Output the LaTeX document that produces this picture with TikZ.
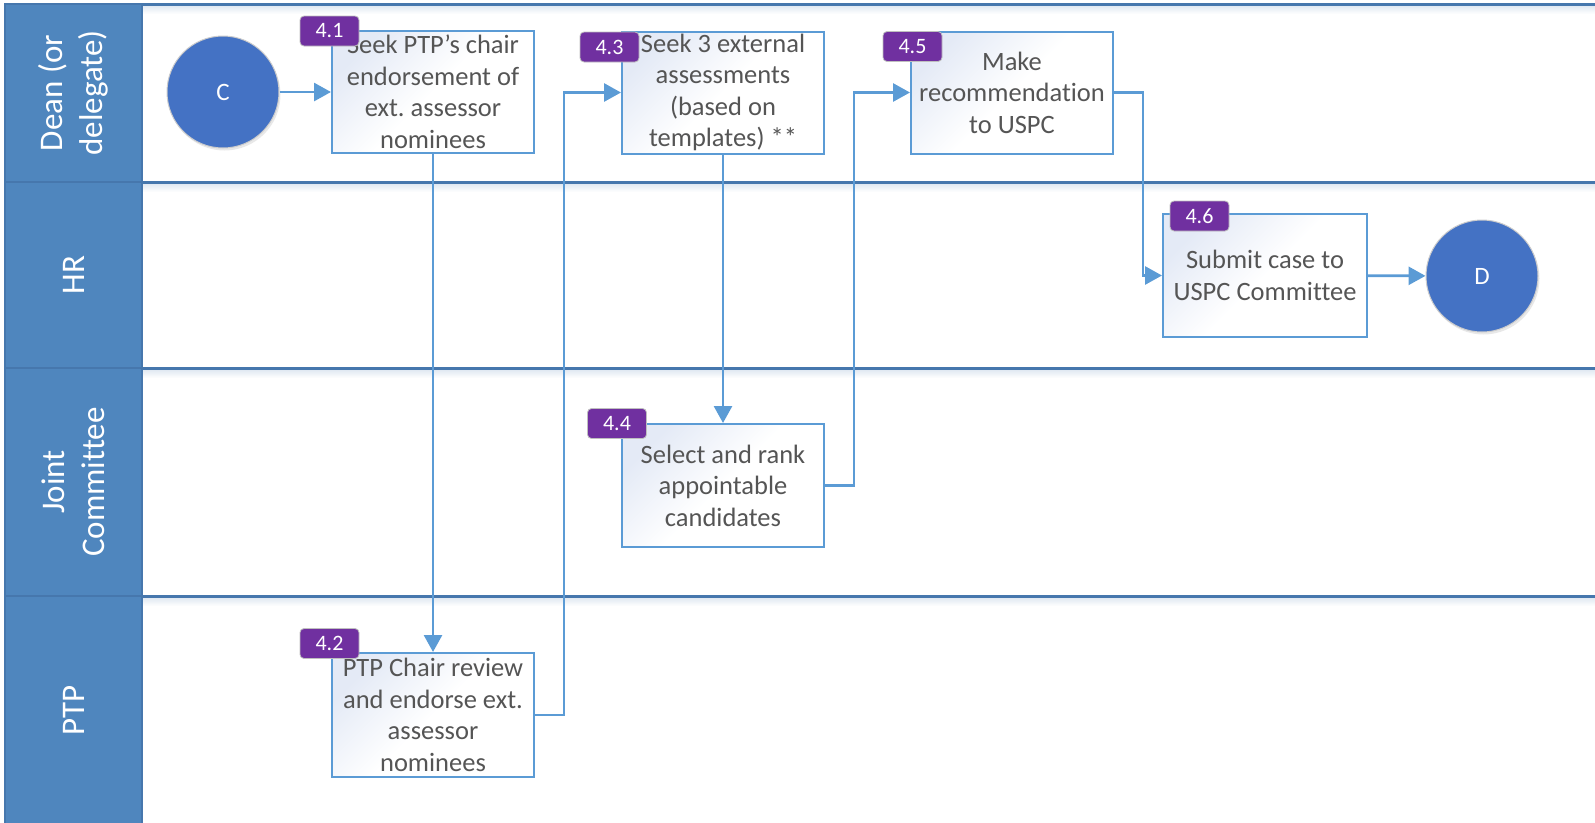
\documentclass[tikz,border=0pt]{standalone}
\usepackage{fontspec}
\setmainfont{Carlito}[Ligatures=NoCommon]
\usetikzlibrary{arrows.meta,shadows}

\definecolor{lanefill}{HTML}{4F86BE}
\definecolor{laneline}{HTML}{4677AD}
\definecolor{boxline}{HTML}{5B9BD5}
\definecolor{flowline}{HTML}{5B9BD5}
\definecolor{badgefill}{HTML}{7030A0}
\definecolor{termfill}{HTML}{4472C4}
\definecolor{boxtext}{HTML}{555555}
\definecolor{boxtint}{HTML}{E4EAF6}

\tikzset{
  lanehead/.style={fill=lanefill, draw=laneline, line width=2pt},
  lanelabel/.style={rotate=90, align=center, text=white, font=\fontsize{33}{40}\selectfont},
  laneglow/.style={top color=laneline!18!white, bottom color=white, draw=none},
  stepbox/.style={draw=boxline, line width=2pt, top color=boxtint, bottom color=white,
    middle color=white, shading angle=45, align=center, text=boxtext,
    font=\fontsize{26.5}{31.5}\selectfont, inner sep=0pt,
    minimum width=202pt, minimum height=122pt},
  badge/.style={fill=badgefill, draw=black!25, line width=0.8pt, rounded corners=4pt,
    text=white, font=\fontsize{22}{24}\selectfont, minimum width=59pt,
    minimum height=30pt, inner sep=0pt},
  terminal/.style={circle, fill=termfill, draw=black!20, line width=1pt,
    minimum size=112pt, inner sep=0pt, text=white, font=\fontsize{25}{30}\selectfont,
    drop shadow={opacity=0.18, shadow xshift=1.5pt, shadow yshift=-2.5pt}},
  flow/.style={draw=flowline, line width=2.8pt,
    -{Triangle[length=17pt,width=18pt]}},
}

\begin{document}
\frenchspacing
\begin{tikzpicture}[x=1pt,y=-1pt]
\useasboundingbox (0,0) rectangle (1595,822);
\clip (0,0) rectangle (1595,822);

% soft bands under the lane separators
\foreach \yy in {4,182,368,596}
  \shade[laneglow] (142,\yy+1) rectangle (1595,\yy+10);

% lane separators
\foreach \yy in {4,182,368,596}
  \draw[laneline, line width=3pt] (5,\yy) -- (1595,\yy);

% lane headers
\node[lanehead, minimum width=137pt, minimum height=178pt, inner sep=0pt] (h1) at (73.5,93) {};
\node[lanehead, minimum width=137pt, minimum height=186pt, inner sep=0pt] (h2) at (73.5,275) {};
\node[lanehead, minimum width=137pt, minimum height=228pt, inner sep=0pt] (h3) at (73.5,482) {};
\node[lanehead, minimum width=137pt, minimum height=240pt, inner sep=0pt] (h4) at (73.5,716) {};
\node[lanelabel] (l1) at (h1) {Dean (or\\delegate)};
\node[lanelabel] (l2) at (h2) {HR};
\node[lanelabel] (l3) at (h3) {Joint\\Committee};
\node[lanelabel] (l4) at (73.5,710) {PTP};

% process steps
\node[stepbox] (b41) at (433,92) {Seek PTP’s chair\\endorsement of\\ext. assessor\\nominees};
\node[stepbox] (b43) at (723,92.5) {Seek 3 external\\assessments\\(based on\\templates) **};
\node[stepbox] (b45) at (1012,92.5) {Make\\recommendation\\to USPC};
\node[stepbox, minimum width=204pt, minimum height=123pt] (b46) at (1265,275.5) {Submit case to\\USPC Committee};
\node[stepbox, minimum height=123pt] (b44) at (723,485.5) {Select and rank\\appointable\\candidates};
\node[stepbox, minimum height=124pt] (b42) at (433,715) {PTP Chair review\\and endorse ext.\\assessor\\nominees};

% start and end terminals
\node[terminal] (c) at (223,92) {C};
\node[terminal] (d) at (1482,276) {D};

% connectors
\draw[flow] (c) -- (b41);
\draw[flow] (b41.south) -- (b42.north);
\draw[flow] (b42.east) -- ++(29,0) |- (b43.west);
\draw[flow] (b43.south) -- (b44.north);
\draw[flow] (b44.east) -- ++(29,0) |- (b45.west);
\draw[flow] (b45.east) -- ++(29,0) |- (b46.west);
\draw[flow] (b46) -- (d);

% step number badges
\node[badge] (n41) at (329.5,31) {4.1};
\node[badge] (n43) at (609.5,47) {4.3};
\node[badge] (n45) at (912.5,46.5) {4.5};
\node[badge] (n46) at (1199.5,216) {4.6};
\node[badge] (n44) at (617,423.5) {4.4};
\node[badge] (n42) at (329.5,643.5) {4.2};
\end{tikzpicture}
\end{document}
